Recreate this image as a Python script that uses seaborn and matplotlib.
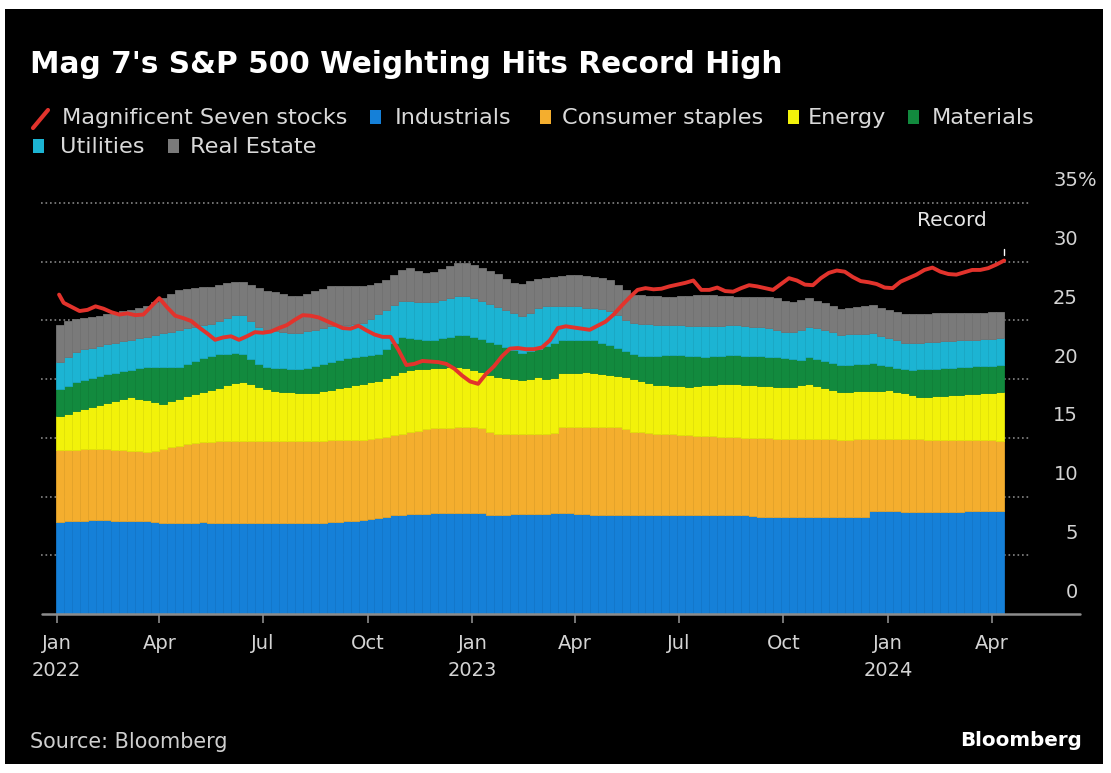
import numpy as np
import pandas as pd
import matplotlib
matplotlib.use("Agg")
import matplotlib.pyplot as plt
import matplotlib.dates as mdates
import matplotlib.colors as mcolors
from matplotlib.patches import Rectangle
from matplotlib.lines import Line2D
import seaborn as sns

# ---------------------------------------------------------------- data
# Weekly S&P 500 sector weights (%), week ending Friday
weeks = pd.date_range("2022-01-07", periods=119, freq="7D")

industrials = [
    7.87, 7.90, 7.92, 7.95, 7.98, 8.00, 7.98, 7.96, 7.95, 7.93, 7.92, 7.90,
    7.84, 7.74, 7.73, 7.76, 7.77, 7.79, 7.80, 7.79, 7.78, 7.77, 7.76, 7.75,
    7.74, 7.72, 7.72, 7.73, 7.74, 7.75, 7.76, 7.77, 7.78, 7.79, 7.80, 7.85,
    7.89, 7.93, 7.97, 8.05, 8.17, 8.29, 8.41, 8.47, 8.50, 8.54, 8.55, 8.56,
    8.57, 8.59, 8.60, 8.62, 8.63, 8.56, 8.45, 8.46, 8.47, 8.48, 8.48, 8.49,
    8.50, 8.54, 8.60, 8.58, 8.56, 8.54, 8.50, 8.47, 8.45, 8.46, 8.45, 8.44,
    8.45, 8.46, 8.45, 8.44, 8.45, 8.46, 8.45, 8.44, 8.45, 8.45, 8.44, 8.43,
    8.42, 8.41, 8.40, 8.37, 8.29, 8.30, 8.28, 8.29, 8.30, 8.29, 8.28, 8.29,
    8.30, 8.29, 8.28, 8.29, 8.30, 8.29, 8.78, 8.77, 8.75, 8.73, 8.72, 8.71,
    8.70, 8.70, 8.71, 8.71, 8.72, 8.72, 8.74, 8.76, 8.77, 8.79, 8.80,
]
consumer_staples = [
    6.10, 6.09, 6.08, 6.07, 6.05, 6.05, 6.04, 6.02, 5.99, 5.97, 5.95, 5.93,
    6.07, 6.31, 6.47, 6.57, 6.67, 6.77, 6.87, 6.89, 6.91, 6.93, 6.94, 6.96,
    6.97, 7.00, 7.00, 7.00, 7.00, 6.99, 6.99, 6.99, 6.99, 6.98, 6.98, 6.94,
    6.91, 6.88, 6.85, 6.83, 6.80, 6.81, 6.81, 6.88, 6.97, 7.06, 7.17, 7.26,
    7.28, 7.28, 7.30, 7.31, 7.32, 7.24, 7.01, 6.91, 6.86, 6.82, 6.84, 6.85,
    6.86, 6.83, 6.79, 7.37, 7.39, 7.41, 7.45, 7.48, 7.50, 7.50, 7.50, 7.30,
    7.08, 7.02, 6.97, 6.91, 6.85, 6.83, 6.80, 6.77, 6.75, 6.72, 6.70, 6.68,
    6.67, 6.65, 6.63, 6.64, 6.69, 6.67, 6.66, 6.65, 6.64, 6.62, 6.61, 6.60,
    6.59, 6.58, 6.57, 6.56, 6.57, 6.58, 6.09, 6.11, 6.14, 6.17, 6.17, 6.17,
    6.17, 6.16, 6.14, 6.13, 6.11, 6.10, 6.07, 6.04, 6.02, 5.99, 5.97,
]
energy = [
    2.89, 3.07, 3.26, 3.42, 3.59, 3.74, 3.95, 4.17, 4.41, 4.58, 4.46, 4.36,
    4.13, 3.86, 3.92, 4.00, 4.10, 4.19, 4.20, 4.42, 4.59, 4.77, 4.97, 5.02,
    4.84, 4.65, 4.48, 4.29, 4.15, 4.13, 4.09, 4.06, 4.06, 4.19, 4.31, 4.43,
    4.55, 4.67, 4.79, 4.86, 4.90, 4.99, 5.14, 5.27, 5.34, 5.25, 5.16, 5.10,
    5.11, 5.13, 5.14, 5.05, 4.83, 4.77, 4.91, 4.82, 4.77, 4.71, 4.60, 4.68,
    4.80, 4.66, 4.74, 4.55, 4.58, 4.61, 4.64, 4.61, 4.51, 4.41, 4.32, 4.40,
    4.45, 4.35, 4.23, 4.14, 4.16, 4.15, 4.15, 4.14, 4.21, 4.30, 4.39, 4.48,
    4.49, 4.50, 4.50, 4.50, 4.46, 4.43, 4.39, 4.36, 4.41, 4.55, 4.68, 4.55,
    4.38, 4.20, 4.04, 4.08, 4.09, 4.11, 4.14, 4.15, 4.17, 4.04, 3.91, 3.78,
    3.65, 3.66, 3.71, 3.75, 3.80, 3.85, 3.91, 3.96, 4.01, 4.07, 4.12,
]
materials = [
    2.30, 2.39, 2.48, 2.52, 2.49, 2.46, 2.43, 2.39, 2.32, 2.32, 2.60, 2.87,
    3.02, 3.15, 2.94, 2.73, 2.73, 2.77, 2.89, 2.90, 2.83, 2.71, 2.58, 2.41,
    2.17, 1.91, 1.83, 1.95, 2.02, 1.98, 1.99, 2.14, 2.27, 2.31, 2.35, 2.40,
    2.44, 2.41, 2.38, 2.34, 2.31, 2.50, 2.71, 2.94, 2.71, 2.58, 2.46, 2.45,
    2.53, 2.61, 2.69, 2.75, 2.78, 2.81, 2.83, 2.83, 2.66, 2.49, 2.32, 2.34,
    2.39, 2.77, 2.95, 2.80, 2.77, 2.74, 2.71, 2.74, 2.59, 2.52, 2.38, 2.23,
    2.13, 2.10, 2.30, 2.48, 2.56, 2.63, 2.62, 2.62, 2.53, 2.44, 2.41, 2.39,
    2.44, 2.49, 2.48, 2.47, 2.50, 2.52, 2.52, 2.47, 2.34, 2.16, 2.28, 2.30,
    2.29, 2.29, 2.30, 2.31, 2.33, 2.33, 2.34, 2.20, 2.04, 2.03, 2.04, 2.16,
    2.33, 2.35, 2.33, 2.33, 2.33, 2.33, 2.32, 2.32, 2.31, 2.30, 2.30,
]
utilities = [
    2.32, 2.43, 2.54, 2.60, 2.58, 2.57, 2.56, 2.55, 2.55, 2.55, 2.55, 2.55,
    2.69, 2.83, 2.98, 3.12, 3.05, 2.93, 2.82, 2.72, 2.83, 3.01, 3.19, 3.28,
    3.21, 3.16, 3.14, 3.12, 3.11, 3.10, 3.10, 3.12, 3.12, 3.10, 3.07, 2.95,
    2.84, 2.80, 2.76, 3.04, 3.34, 3.30, 3.21, 3.11, 3.13, 3.16, 3.19, 3.21,
    3.26, 3.32, 3.37, 3.38, 3.32, 3.26, 3.21, 3.15, 3.13, 3.12, 3.10, 3.30,
    3.55, 3.40, 3.12, 2.90, 2.90, 2.90, 2.79, 2.72, 2.90, 2.91, 2.79, 2.70,
    2.64, 2.80, 2.74, 2.68, 2.61, 2.54, 2.56, 2.57, 2.59, 2.60, 2.58, 2.56,
    2.55, 2.54, 2.55, 2.50, 2.47, 2.43, 2.35, 2.25, 2.30, 2.60, 2.61, 2.61,
    2.64, 2.64, 2.60, 2.59, 2.57, 2.57, 2.55, 2.48, 2.41, 2.34, 2.26, 2.26,
    2.27, 2.28, 2.30, 2.30, 2.30, 2.30, 2.29, 2.29, 2.30, 2.30, 2.30,
]
real_estate = [
    3.12, 3.03, 2.80, 2.63, 2.61, 2.59, 2.56, 2.55, 2.56, 2.57, 2.58, 2.60,
    2.80, 3.00, 3.19, 3.39, 3.34, 3.29, 3.23, 3.16, 3.07, 2.97, 2.87, 2.88,
    3.09, 3.30, 3.36, 3.30, 3.23, 3.16, 3.12, 3.18, 3.26, 3.33, 3.39, 3.33,
    3.27, 3.21, 3.15, 2.91, 2.65, 2.58, 2.60, 2.63, 2.79, 2.64, 2.52, 2.54,
    2.61, 2.68, 2.75, 2.80, 2.80, 2.80, 2.80, 2.78, 2.66, 2.59, 2.80, 2.74,
    2.46, 2.45, 2.52, 2.59, 2.67, 2.69, 2.71, 2.70, 2.70, 2.68, 2.60, 2.52,
    2.45, 2.44, 2.43, 2.42, 2.40, 2.40, 2.47, 2.55, 2.62, 2.68, 2.63, 2.56,
    2.48, 2.42, 2.44, 2.52, 2.59, 2.66, 2.67, 2.63, 2.58, 2.50, 2.41, 2.34,
    2.25, 2.20, 2.20, 2.25, 2.30, 2.35, 2.39, 2.39, 2.40, 2.41, 2.43, 2.44,
    2.43, 2.42, 2.41, 2.39, 2.36, 2.33, 2.32, 2.29, 2.26, 2.23, 2.21,
]

# Combined weight of the Magnificent Seven (%): first session, then weekly
mag7_dates = [pd.Timestamp("2022-01-03")] + list(weeks)
mag7 = [
    27.2,
    26.5, 26.15, 25.8, 25.9, 26.2, 26.0, 25.7, 25.5, 25.6, 25.45, 25.5, 26.2,
    26.9, 26.1, 25.4, 25.2, 24.95, 24.4, 23.9, 23.35, 23.55, 23.65, 23.35, 23.65,
    24.0, 23.95, 24.05, 24.35, 24.6, 25.05, 25.45, 25.4, 25.25, 24.95, 24.65, 24.35,
    24.3, 24.55, 24.15, 23.8, 23.6, 23.6, 22.5, 21.2, 21.3, 21.55, 21.5, 21.45,
    21.3, 20.9, 20.3, 19.8, 19.6, 20.45, 21.1, 21.95, 22.6, 22.65, 22.55, 22.55,
    22.7, 23.3, 24.35, 24.5, 24.4, 24.3, 24.2, 24.55, 24.9, 25.5, 26.25, 26.95,
    27.6, 27.75, 27.65, 27.7, 27.9, 28.05, 28.2, 28.4, 27.6, 27.6, 27.8, 27.5,
    27.45, 27.75, 28.0, 27.9, 27.75, 27.6, 28.1, 28.6, 28.4, 28.05, 28.0, 28.6,
    29.05, 29.25, 29.15, 28.7, 28.35, 28.25, 28.1, 27.8, 27.75, 28.3, 28.6, 28.9,
    29.3, 29.5, 29.15, 28.95, 28.9, 29.1, 29.3, 29.3, 29.45, 29.75, 30.1,
]

sectors = ["Industrials", "Consumer staples", "Energy", "Materials",
           "Utilities", "Real Estate"]
sector_values = [industrials, consumer_staples, energy, materials,
                 utilities, real_estate]
sector_colors = ["#1580D8", "#F4AE2E", "#F2F20A", "#128A3E",
                 "#1CB4D3", "#7A7A7A"]
RED = "#E2332C"

y_ticks = [0, 5, 10, 15, 20, 25, 30, 35]
x_tick_dates = pd.to_datetime([
    "2022-01-01", "2022-04-01", "2022-07-01", "2022-10-01",
    "2023-01-01", "2023-04-01", "2023-07-01", "2023-10-01",
    "2024-01-01", "2024-04-01",
])
x_tick_labels = ["Jan\n2022", "Apr", "Jul", "Oct", "Jan\n2023", "Apr",
                 "Jul", "Oct", "Jan\n2024", "Apr"]

# ---------------------------------------------------------------- style
sns.set_theme(style="dark")
plt.rcParams["font.family"] = ["DejaVu Sans"]

W, H = 1111, 773
PX_PER_UNIT = (614 - 203) / 35.0

fig = plt.figure(figsize=(W / 100, H / 100), dpi=100)
fig.patch.set_facecolor("white")
fig.patches.append(Rectangle((5 / W, 1 - 764 / H), (1103 - 5) / W, (764 - 9) / H,
                             transform=fig.transFigure, facecolor="black",
                             edgecolor="none", zorder=-10))


def fy(py):
    return 1 - py / H


ax = fig.add_axes([42 / W, 1 - 614 / H, (1080 - 42) / W, 37 * PX_PER_UNIT / H])
ax.patch.set_alpha(0)
for sp in ax.spines.values():
    sp.set_visible(False)

base = mdates.date2num(pd.Timestamp("2022-01-01"))
ax.set_xlim(base - 13.0, base + 898.6)
ax.set_ylim(0, 37)

# dotted gridlines
for v in y_ticks[1:]:
    ax.plot([base - 14, base + 856], [v, v], color="#858585", lw=1.2,
            ls=(0, (1, 1.7)), zorder=1, clip_on=False)

# stacked weekly bars, with a faint seam between weeks
x_num = mdates.date2num(weeks)
bottom = np.zeros(len(weeks))
for vals, col in zip(sector_values, sector_colors):
    vals = np.asarray(vals)
    edge = tuple(c * 0.94 for c in mcolors.to_rgb(col))
    ax.bar(x_num, vals, width=-7, align="edge", bottom=bottom, color=col,
           edgecolor=edge, linewidth=0.6, zorder=2)
    bottom += vals

# Magnificent Seven line
mag_df = pd.DataFrame({"date": mag7_dates, "weight": mag7})
sns.lineplot(data=mag_df, x="date", y="weight", ax=ax, color=RED,
             linewidth=2.8, zorder=4, legend=False)
ax.set_xlabel("")
ax.set_ylabel("")

# baseline
ax.plot([base - 13.0, base + 898.6], [0, 0], color="#8c8c8c", lw=1.8,
        zorder=3, clip_on=False)

# x axis ticks
ax.set_xticks(mdates.date2num(x_tick_dates))
ax.set_xticklabels(x_tick_labels)
ax.tick_params(axis="x", direction="out", length=6.5, width=1.2,
               color="#8c8c8c", labelcolor="#d4d4d4", labelsize=14, pad=8,
               bottom=True)
for lbl in ax.get_xticklabels():
    lbl.set_linespacing(1.55)
ax.set_yticks([])
ax.grid(False)

# y labels on the right, sitting above each gridline
ytr = ax.get_yaxis_transform()
xr = (1078 - 42) / (1080 - 42)
for v in y_ticks:
    ax.text(xr, v + 22 / PX_PER_UNIT, str(v), transform=ytr, ha="right",
            va="center", color="#d4d4d4", fontsize=14, clip_on=False)
ax.text(xr, 35 + 22 / PX_PER_UNIT, "%", transform=ytr, ha="left",
        va="center", color="#d4d4d4", fontsize=14, clip_on=False)

# record annotation
last = weeks[-1]
ax.plot([last, last], [30.6, 31.1], color="white", lw=1, zorder=5)
ax.text(pd.Timestamp("2024-03-28"), 33.55, "Record", ha="right", va="center",
        color="#e6e6e6", fontsize=14.5)

# ---------------------------------------------------------------- text
renderer = fig.canvas.get_renderer()


def fit_size(s, target, weight="normal", base_size=20):
    t = fig.text(0, 0, s, fontsize=base_size, fontweight=weight)
    w = t.get_window_extent(renderer).width
    t.remove()
    return base_size * target / w


title_size = fit_size("Mag 7's S&P 500 Weighting Hits Record High", 753, "bold")
fig.text(30 / W, fy(73), "Mag 7's S&P 500 Weighting Hits Record High",
         fontsize=title_size, fontweight="bold", color="white", va="baseline")

leg_size = fit_size("Magnificent Seven stocks", 285)
row1, row2 = 124, 153
fig.lines.append(Line2D([33 / W, 48 / W], [fy(128), fy(110)], color=RED, lw=3,
                        transform=fig.transFigure))
fig.text(62 / W, fy(row1), "Magnificent Seven stocks", fontsize=leg_size,
         color="#d9d9d9", va="baseline")

legend_items = [
    (sector_colors[0], 370, 395, row1, sectors[0]),
    (sector_colors[1], 540, 562, row1, sectors[1]),
    (sector_colors[2], 788, 808, row1, sectors[2]),
    (sector_colors[3], 908, 932, row1, sectors[3]),
    (sector_colors[4], 33, 60, row2, sectors[4]),
    (sector_colors[5], 168, 190, row2, sectors[5]),
]
for col, mx, tx, base_y, name in legend_items:
    fig.patches.append(Rectangle((mx / W, fy(base_y)), 11 / W, 14 / H,
                                 transform=fig.transFigure, facecolor=col,
                                 edgecolor="none"))
    fig.text(tx / W, fy(base_y), name, fontsize=leg_size, color="#d9d9d9",
             va="baseline")

src_size = fit_size("Source: Bloomberg", 198)
fig.text(30 / W, fy(748), "Source: Bloomberg", fontsize=src_size,
         color="#cfcfcf", va="baseline")
brand_size = fit_size("Bloomberg", 122, "bold")
fig.text(1082 / W, fy(746), "Bloomberg", fontsize=brand_size,
         fontweight="bold", color="white", va="baseline", ha="right")

fig.savefig("out.png", dpi=100, facecolor=fig.get_facecolor())
